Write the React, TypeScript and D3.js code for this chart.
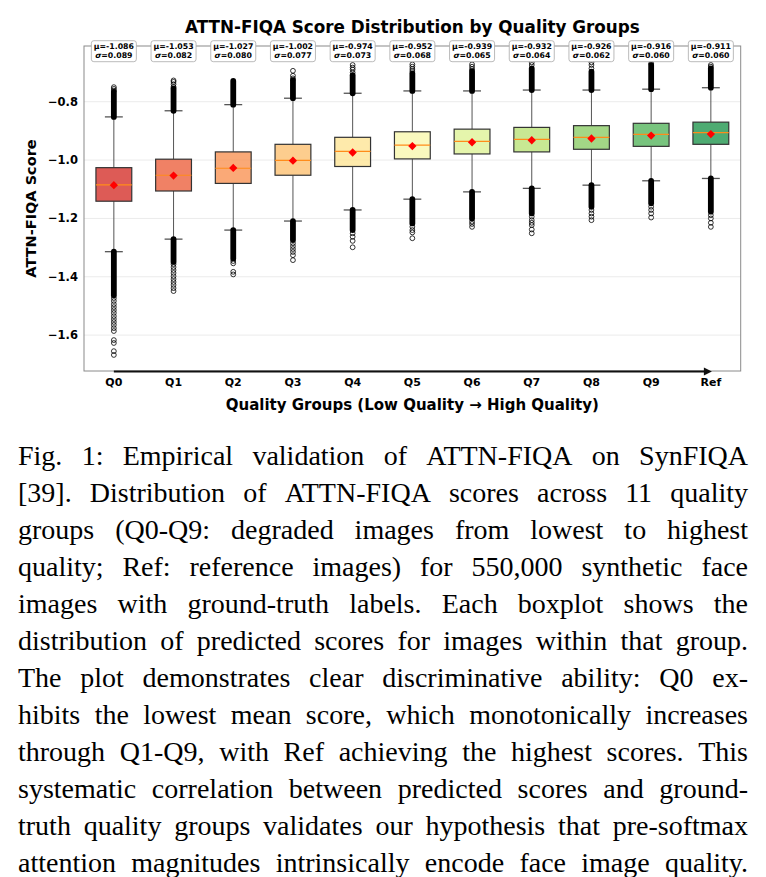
import * as d3 from 'd3';
import React, { useEffect, useRef } from 'react';

const groups = ['Q0', 'Q1', 'Q2', 'Q3', 'Q4', 'Q5', 'Q6', 'Q7', 'Q8', 'Q9', 'Ref'];
const means = [-1.086, -1.053, -1.027, -1.002, -0.974, -0.952, -0.939, -0.932, -0.926, -0.916, -0.911];
const stds = [0.089, 0.082, 0.080, 0.077, 0.073, 0.068, 0.065, 0.064, 0.062, 0.060, 0.060];
const q1s = [-1.141, -1.106, -1.080, -1.052, -1.022, -0.996, -0.979, -0.972, -0.963, -0.953, -0.946];
const medians = [-1.085, -1.052, -1.028, -1.001, -0.970, -0.949, -0.936, -0.929, -0.922, -0.912, -0.906];
const q3s = [-1.026, -0.997, -0.972, -0.946, -0.922, -0.903, -0.894, -0.888, -0.882, -0.874, -0.870];
const whiskerLow = [-1.314, -1.271, -1.240, -1.209, -1.171, -1.134, -1.109, -1.097, -1.086, -1.071, -1.063];
const whiskerHigh = [-0.852, -0.831, -0.810, -0.788, -0.771, -0.763, -0.763, -0.760, -0.760, -0.757, -0.752];
// outliers so packed that they read as a solid column: whisker cap -> these values
const upperDenseEnd = [-0.766, -0.754, -0.729, -0.726, -0.709, -0.703, -0.695, -0.686, -0.697, -0.674, -0.686];
const lowerDenseEnd = [-1.463, -1.349, -1.337, -1.274, -1.240, -1.217, -1.200, -1.183, -1.160, -1.148, -1.177];
const upperOutliers = [
    [-0.762, -0.756, -0.750],
    [-0.749, -0.740, -0.732, -0.727],
    [],
    [-0.720, -0.711, -0.694],
    [-0.700, -0.690, -0.683, -0.674],
    [-0.695, -0.688, -0.680, -0.672],
    [-0.688, -0.680, -0.672],
    [-0.674, -0.665],
    [-0.686, -0.674, -0.665],
    [-0.669],
    [-0.680, -0.674],
];
const lowerOutliers = [
    [-1.473, -1.483, -1.494, -1.504, -1.514, -1.524, -1.535, -1.545, -1.555, -1.565, -1.576, -1.586, -1.617, -1.627, -1.655, -1.668],
    [-1.357, -1.367, -1.377, -1.387, -1.398, -1.408, -1.418, -1.428, -1.439, -1.449],
    [-1.346, -1.354, -1.383, -1.392],
    [-1.285, -1.295, -1.305, -1.315, -1.326, -1.343],
    [-1.251, -1.263, -1.277, -1.299],
    [-1.229, -1.240, -1.248, -1.268],
    [-1.211, -1.219, -1.229],
    [-1.194, -1.206, -1.215, -1.223, -1.238, -1.251],
    [-1.171, -1.183, -1.194, -1.206],
    [-1.160, -1.171, -1.183, -1.197],
    [-1.189, -1.200, -1.215, -1.229],
];
const yTicks = [-1.6, -1.4, -1.2, -1.0, -0.8];

const captionLines = [
    'Fig. 1: Empirical validation of ATTN-FIQA on SynFIQA',
    '[39]. Distribution of ATTN-FIQA scores across 11 quality',
    'groups (Q0-Q9: degraded images from lowest to highest',
    'quality; Ref: reference images) for 550,000 synthetic face',
    'images with ground-truth labels. Each boxplot shows the',
    'distribution of predicted scores for images within that group.',
    'The plot demonstrates clear discriminative ability: Q0 ex-',
    'hibits the lowest mean score, which monotonically increases',
    'through Q1-Q9, with Ref achieving the highest scores. This',
    'systematic correlation between predicted scores and ground-',
    'truth quality groups validates our hypothesis that pre-softmax',
    'attention magnitudes intrinsically encode face image quality.',
];

const W = 766;
const H = 877;
const sans = 'DejaVu Sans';

function App() {
    const ref = useRef<SVGSVGElement>(null);

    useEffect(() => {
        document.body.style.margin = '0';
        const svg = d3.select(ref.current);
        svg.selectAll('*').remove();

        const left = 84, right = 740.7, top = 46, bottom = 371;
        const x = d3.scaleBand().domain(groups).range([left, right]);
        const y = d3.scaleLinear().domain([-1.723, -0.609]).range([bottom, top]);
        const cx = (i: number) => (x(groups[i]) as number) + x.bandwidth() / 2;
        const boxW = x.bandwidth() * 0.6;
        const capW = boxW / 2;
        const fmt = d3.format('.1f');

        // grid
        svg.append('g').selectAll('line').data(yTicks).join('line')
            .attr('x1', left).attr('x2', right)
            .attr('y1', d => y(d)).attr('y2', d => y(d))
            .attr('stroke', '#ebebeb').attr('stroke-width', 1);

        // spines
        svg.append('rect')
            .attr('x', left).attr('y', top).attr('width', right - left).attr('height', bottom - top)
            .attr('fill', 'none').attr('stroke', '#8a8a8a').attr('stroke-width', 1);

        // y tick labels
        svg.append('g').selectAll('text').data(yTicks).join('text')
            .attr('x', 78).attr('y', d => y(d) + 4)
            .attr('text-anchor', 'end')
            .attr('font-family', sans).attr('font-weight', 'bold').attr('font-size', 11.5)
            .text(d => fmt(d));

        const g = svg.append('g').selectAll('g').data(groups).join('g');

        // whiskers
        g.append('line')
            .attr('x1', (_, i) => cx(i)).attr('x2', (_, i) => cx(i))
            .attr('y1', (_, i) => y(whiskerHigh[i])).attr('y2', (_, i) => y(q3s[i]))
            .attr('stroke', '#555').attr('stroke-width', 1);
        g.append('line')
            .attr('x1', (_, i) => cx(i)).attr('x2', (_, i) => cx(i))
            .attr('y1', (_, i) => y(q1s[i])).attr('y2', (_, i) => y(whiskerLow[i]))
            .attr('stroke', '#555').attr('stroke-width', 1);
        [whiskerHigh, whiskerLow].forEach(arr => {
            g.append('line')
                .attr('x1', (_, i) => cx(i) - capW / 2).attr('x2', (_, i) => cx(i) + capW / 2)
                .attr('y1', (_, i) => y(arr[i])).attr('y2', (_, i) => y(arr[i]))
                .attr('stroke', '#555').attr('stroke-width', 1.3);
        });

        // dense outlier columns
        const r = 2.4;
        g.append('rect')
            .attr('x', (_, i) => cx(i) - r - 0.5).attr('width', 2 * r + 1)
            .attr('y', (_, i) => y(upperDenseEnd[i]) - r - 0.5)
            .attr('height', (_, i) => y(whiskerHigh[i]) - y(upperDenseEnd[i]) + 2 * r + 1)
            .attr('rx', r + 0.5).attr('fill', '#000');
        g.append('rect')
            .attr('x', (_, i) => cx(i) - r - 0.5).attr('width', 2 * r + 1)
            .attr('y', (_, i) => y(whiskerLow[i]) - r - 0.5)
            .attr('height', (_, i) => y(lowerDenseEnd[i]) - y(whiskerLow[i]) + 2 * r + 1)
            .attr('rx', r + 0.5).attr('fill', '#000');

        // sparse outliers
        g.each(function (_, i) {
            d3.select(this).selectAll('circle.o')
                .data(upperOutliers[i].concat(lowerOutliers[i])).join('circle')
                .attr('class', 'o')
                .attr('cx', cx(i)).attr('cy', d => y(d)).attr('r', r)
                .attr('fill', 'none').attr('stroke', '#000').attr('stroke-width', 0.8);
        });

        // boxes
        g.append('rect')
            .attr('x', (_, i) => cx(i) - boxW / 2).attr('width', boxW)
            .attr('y', (_, i) => y(q3s[i])).attr('height', (_, i) => y(q1s[i]) - y(q3s[i]))
            .attr('fill', (_, i) => d3.interpolateRdYlGn(0.1 + 0.08 * i)).attr('fill-opacity', 0.8)
            .attr('stroke', '#333').attr('stroke-width', 1.2);
        g.append('line')
            .attr('x1', (_, i) => cx(i) - boxW / 2).attr('x2', (_, i) => cx(i) + boxW / 2)
            .attr('y1', (_, i) => y(medians[i])).attr('y2', (_, i) => y(medians[i]))
            .attr('stroke', '#ff8c1a').attr('stroke-width', 1.2);
        g.append('path')
            .attr('d', d3.symbol(d3.symbolDiamond2, 44)())
            .attr('transform', (_, i) => `translate(${cx(i)},${y(means[i])})`)
            .attr('fill', '#ff0000');

        // annotation boxes on top spine
        const ann = g.append('g').attr('transform', (_, i) => `translate(${cx(i)},${top})`);
        ann.append('rect')
            .attr('x', -22.5).attr('y', -5.3).attr('width', 45).attr('height', 21)
            .attr('rx', 2.5).attr('fill', '#fff').attr('stroke', '#aaa').attr('stroke-width', 0.8);
        ann.append('text')
            .attr('y', 3).attr('text-anchor', 'middle')
            .attr('font-family', sans).attr('font-weight', 'bold').attr('font-size', 7.8)
            .text((_, i) => `μ=${means[i].toFixed(3)}`);
        const st = ann.append('text')
            .attr('y', 11.5).attr('text-anchor', 'middle')
            .attr('font-family', sans).attr('font-weight', 'bold').attr('font-size', 7.8);
        st.append('tspan').attr('font-style', 'italic').text('σ');
        st.append('tspan').text((_, i) => `=${stds[i].toFixed(3)}`);

        // arrow low -> high quality
        svg.append('line')
            .attr('x1', cx(0)).attr('x2', cx(groups.length - 1) - 6)
            .attr('y1', bottom + 0.5).attr('y2', bottom + 0.5)
            .attr('stroke', '#111').attr('stroke-width', 2);
        const tip = cx(groups.length - 1) + 1;
        svg.append('path')
            .attr('d', `M${tip},${bottom + 0.5} L${tip - 8},${bottom - 3.5} L${tip - 8},${bottom + 4.5} Z`)
            .attr('fill', '#111');

        // x tick labels
        svg.append('g').selectAll('text').data(groups).join('text')
            .attr('x', (_, i) => cx(i)).attr('y', 385.5)
            .attr('text-anchor', 'middle')
            .attr('font-family', sans).attr('font-weight', 'bold').attr('font-size', 11)
            .text(d => d);

        // axis titles
        svg.append('text')
            .attr('x', (left + right) / 2).attr('y', 409.5)
            .attr('text-anchor', 'middle')
            .attr('font-family', sans).attr('font-weight', 'bold').attr('font-size', 15)
            .text('Quality Groups (Low Quality → High Quality)');
        svg.append('text')
            .attr('transform', `translate(36,${(top + bottom) / 2}) rotate(-90)`)
            .attr('text-anchor', 'middle')
            .attr('font-family', sans).attr('font-weight', 'bold').attr('font-size', 14.5)
            .text('ATTN-FIQA Score');
        svg.append('text')
            .attr('x', (left + right) / 2).attr('y', 33)
            .attr('text-anchor', 'middle')
            .attr('font-family', sans).attr('font-weight', 'bold').attr('font-size', 16.8)
            .text('ATTN-FIQA Score Distribution by Quality Groups');

        // caption, justified word by word
        const capLeft = 18, capRight = 748;
        captionLines.forEach((line, li) => {
            const words = line.split(' ');
            const lineG = svg.append('g');
            const nodes = words.map(w => lineG.append('text')
                .attr('y', 465 + li * 37)
                .attr('font-family', 'Liberation Serif').attr('font-size', 28)
                .text(w));
            const widths = nodes.map(n => (n.node() as SVGTextElement).getComputedTextLength());
            const gap = (capRight - capLeft - d3.sum(widths)) / Math.max(1, words.length - 1);
            let xx = capLeft;
            nodes.forEach((n, k) => {
                n.attr('x', xx);
                xx += widths[k] + gap;
            });
        });
    }, []);

    return <svg ref={ref} width={W} height={H} style={{ display: 'block', background: '#fff' }} />;
}

export default App;
